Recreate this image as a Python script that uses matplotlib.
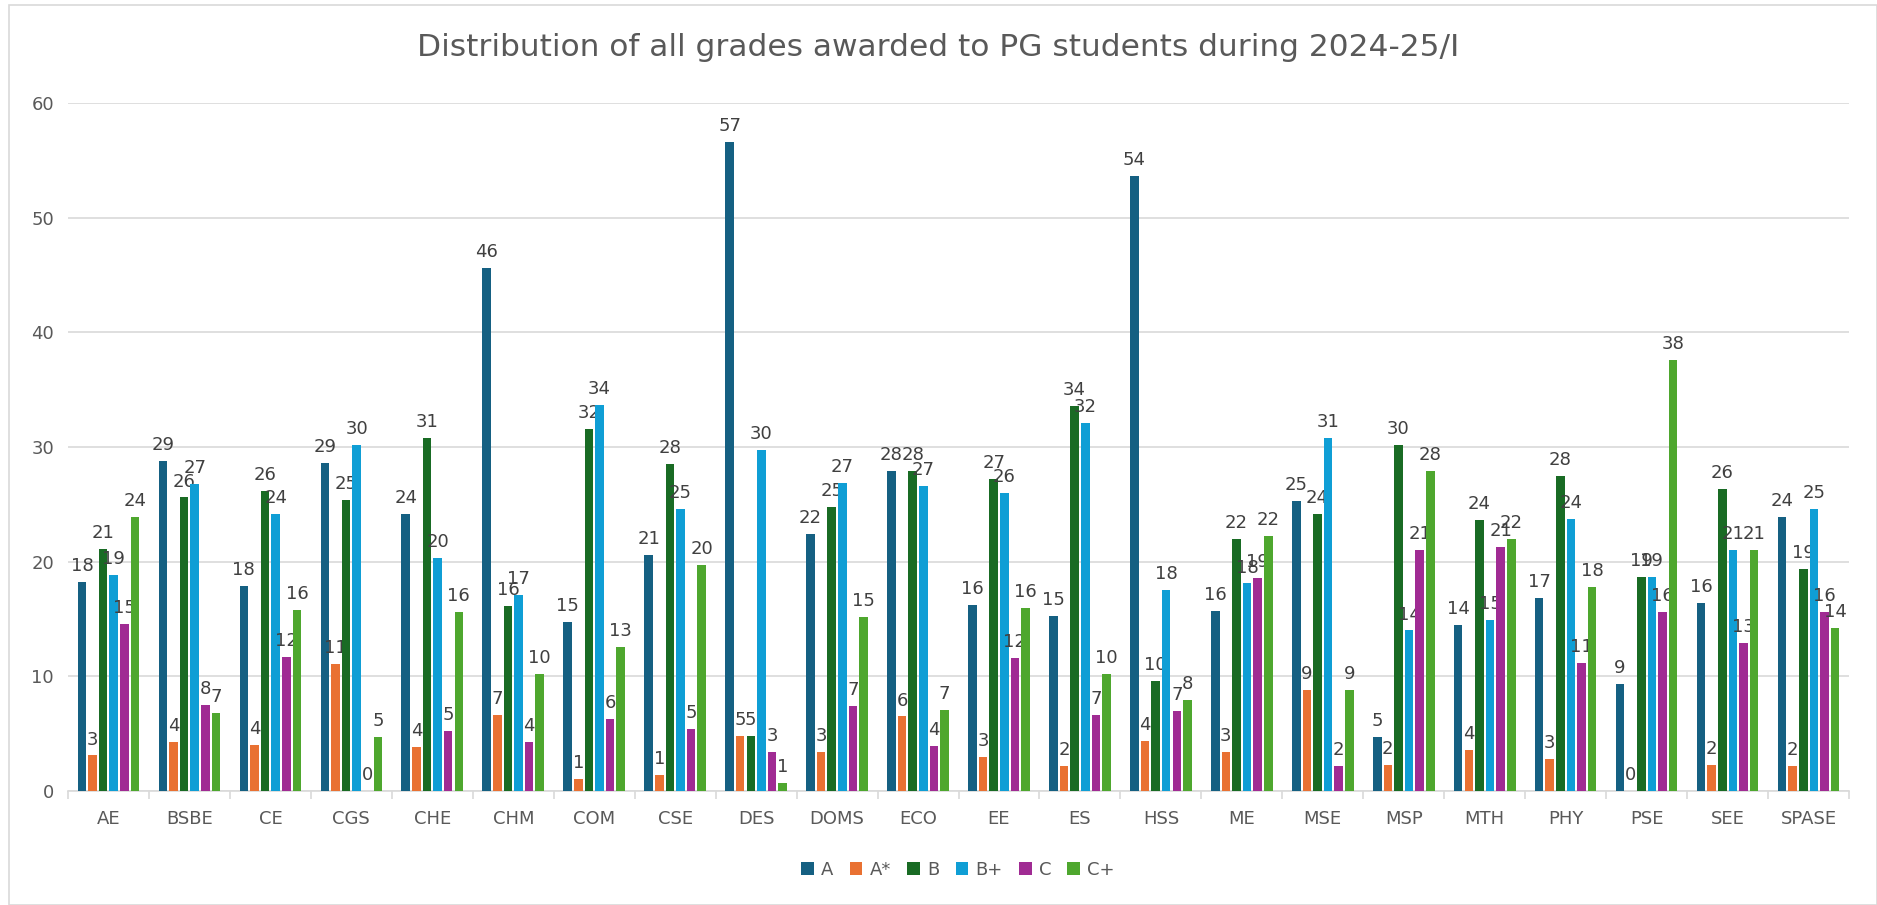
import numpy as np
import matplotlib.pyplot as plt
from matplotlib.patches import Rectangle

plt.rcParams['font.family'] = ['DejaVu Sans']

depts = ['AE', 'BSBE', 'CE', 'CGS', 'CHE', 'CHM', 'COM', 'CSE', 'DES', 'DOMS', 'ECO',
         'EE', 'ES', 'HSS', 'ME', 'MSE', 'MSP', 'MTH', 'PHY', 'PSE', 'SEE', 'SPASE']
grades = ['A', 'A*', 'B', 'B+', 'C', 'C+']

g_A  = [18.2, 28.8, 17.9, 28.6, 24.2, 45.6, 14.7, 20.6, 56.6, 22.4, 27.9,
        16.2, 15.3, 53.6, 15.7, 25.3, 4.7, 14.5, 16.8, 9.3, 16.4, 23.9]
g_As = [3.1, 4.3, 4.0, 11.1, 3.8, 6.6, 1.05, 1.4, 4.8, 3.4, 6.5,
        3.0, 2.2, 4.4, 3.4, 8.8, 2.3, 3.6, 2.8, 0.0, 2.3, 2.2]
g_B  = [21.1, 25.6, 26.2, 25.4, 30.8, 16.1, 31.6, 28.5, 4.8, 24.8, 27.9,
        27.2, 33.6, 9.6, 22.0, 24.2, 30.2, 23.6, 27.5, 18.7, 26.3, 19.4]
g_Bp = [18.8, 26.8, 24.2, 30.2, 20.3, 17.1, 33.7, 24.6, 29.7, 26.9, 26.6,
        26.0, 32.1, 17.5, 18.1, 30.8, 14.0, 14.9, 23.7, 18.7, 21.0, 24.6]
g_C  = [14.6, 7.5, 11.7, 0.0, 5.2, 4.3, 6.3, 5.4, 3.4, 7.4, 3.9,
        11.6, 6.6, 7.0, 18.6, 2.2, 21.0, 21.3, 11.2, 15.6, 12.9, 15.6]
g_Cp = [23.9, 6.8, 15.8, 4.7, 15.6, 10.2, 12.6, 19.7, 0.7, 15.2, 7.1,
        16.0, 10.2, 7.9, 22.2, 8.8, 27.9, 22.0, 17.8, 37.6, 21.0, 14.2]

series = [g_A, g_As, g_B, g_Bp, g_C, g_Cp]
colors = ['#156082', '#E97132', '#196B24', '#0F9ED5', '#A02B93', '#4EA72E']

fig = plt.figure(figsize=(18.77, 9.05), dpi=100)
ax = fig.add_axes([68/1877, 114/905, (1849-68)/1877, (791-103)/905])

x = np.arange(len(depts))
pitch = 0.131
width = 0.106
for i, (vals, c) in enumerate(zip(series, colors)):
    pos = x + (i - 2.5) * pitch
    ax.bar(pos, vals, width, color=c, label=grades[i], zorder=3)
    for xp, v in zip(pos, vals):
        ax.annotate(f'{v:.0f}', (xp, v), xytext=(0, 5), textcoords='offset points',
                    ha='center', va='bottom', fontsize=13, color='#404040')

ax.set_xlim(-0.5, len(depts) - 0.5)
ax.set_ylim(0, 60)
ax.set_yticks(range(0, 61, 10))
ax.yaxis.grid(True, color='#D9D9D9', linewidth=1.2, zorder=0)
for s in ['top', 'right', 'left']:
    ax.spines[s].set_visible(False)
ax.spines['bottom'].set_color('#D9D9D9')
ax.spines['bottom'].set_linewidth(1.2)
ax.set_xticks(x)
ax.set_xticklabels(depts)
ax.set_xticks(np.arange(-0.5, len(depts)), minor=True)
ax.tick_params(axis='x', which='major', length=0, pad=14, labelsize=13, labelcolor='#595959')
ax.tick_params(axis='x', which='minor', length=6, color='#D9D9D9', width=1.2)
ax.tick_params(axis='y', length=0, pad=10, labelsize=13, labelcolor='#595959')

fig.text(0.5, 1 - 48/905, 'Distribution of all grades awarded to PG students during 2024-25/I',
         ha='center', va='center', fontsize=22.5, color='#595959')

fig.legend(loc='center', bbox_to_anchor=(958/1877, 1 - 870/905), ncol=6, frameon=False,
           fontsize=13, handlelength=0.7, handleheight=0.7, handletextpad=0.4,
           columnspacing=0.9, labelcolor='#595959')

fig.patches.append(Rectangle((9/1877, 0), 1 - 9/1877, 1 - 5/905, transform=fig.transFigure,
                             fill=False, edgecolor='#D9D9D9', linewidth=1.2))

fig.savefig('out.png', dpi=100)
